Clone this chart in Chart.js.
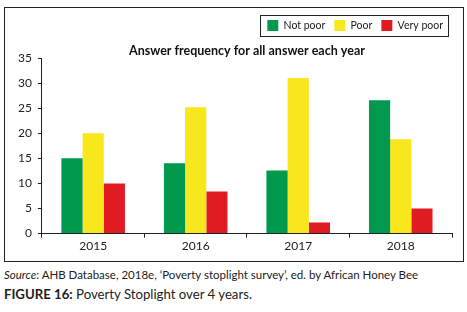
<!DOCTYPE html>
<html lang="en">
<head>
    <meta charset="UTF-8">
    <title>Poverty Stoplight</title>
    <script src="https://cdn.jsdelivr.net/npm/chart.js"></script>
    <style>
        body { margin: 0; background: #fff; font-family: Lato, "Open Sans", sans-serif; color: #222; }
        #frame { position: absolute; left: 4px; top: 7px; width: 458px; height: 253px; border: 1px solid #222; }
        #source { position: absolute; left: 4px; top: 268px; font-size: 11.5px; white-space: nowrap; }
        #caption { position: absolute; left: 4px; top: 286px; font-size: 13.2px; white-space: nowrap; }
    </style>
</head>
<body>
<div id="frame"><canvas id="diagram" width="458" height="253"></canvas></div>
<div id="source"><i>Source</i>: AHB Database, 2018e, ‘Poverty stoplight survey’, ed. by African Honey Bee</div>
<div id="caption"><b>FIGURE 16:</b> Poverty Stoplight over 4 years.</div>
<script>
    const years = ["2015", "2016", "2017", "2018"];
    const notPoor = [15, 14, 12.6, 26.6];
    const poor = [20, 25.2, 31, 18.8];
    const veryPoor = [10, 8.4, 2.2, 5];
    const yTicks = [0, 5, 10, 15, 20, 25, 30, 35];

    // box around the legend, like the original
    const legendBorder = {
        id: 'legendBorder',
        afterDraw(chart) {
            const lg = chart.legend;
            if (!lg || !lg.legendHitBoxes.length) return;
            const boxes = lg.legendHitBoxes;
            const x0 = boxes[0].left - 7;
            const last = boxes[boxes.length - 1];
            const x1 = last.left + last.width + 5;
            const y0 = boxes[0].top - 5;
            const y1 = boxes[0].top + boxes[0].height + 5;
            const ctx = chart.ctx;
            ctx.save();
            ctx.strokeStyle = '#222';
            ctx.lineWidth = 1;
            ctx.strokeRect(Math.round(x0) + 0.5, Math.round(y0) + 0.5, Math.round(x1 - x0), Math.round(y1 - y0));
            ctx.restore();
        }
    };

    const chart = new Chart("diagram", {
        type: "bar",
        data: {
            labels: years,
            datasets: [
                { label: "Not poor", data: notPoor, backgroundColor: "#00994E" },
                { label: "Poor", data: poor, backgroundColor: "#F8E71C" },
                { label: "Very poor", data: veryPoor, backgroundColor: "#E11B22" }
            ]
        },
        options: {
            responsive: false,
            animation: false,
            layout: { padding: { left: 7, right: 11, top: 3, bottom: 7 } },
            datasets: { bar: { categoryPercentage: 0.62, barPercentage: 1 } },
            plugins: {
                legend: {
                    position: 'top',
                    align: 'end',
                    labels: {
                        boxWidth: 11, boxHeight: 11, padding: 9,
                        color: '#222',
                        font: { family: 'Lato', size: 10.5 }
                    }
                },
                title: {
                    display: true,
                    text: 'Answer frequency for all answer each year',
                    weight: 500,
                    fullSize: false,
                    color: '#111',
                    padding: { top: 2, bottom: 0 },
                    font: { family: 'Lato', size: 12.5, weight: 'bold' }
                },
                tooltip: { enabled: false }
            },
            scales: {
                x: {
                    border: { color: '#222' },
                    grid: { offset: true, drawOnChartArea: false, tickLength: 4, color: '#222' },
                    ticks: { color: '#222', padding: 1, font: { family: 'Lato', size: 12 } }
                },
                y: {
                    min: 0, max: 35,
                    afterBuildTicks: axis => { axis.ticks = yTicks.map(v => ({ value: v })); },
                    border: { color: '#222' },
                    grid: { drawOnChartArea: false, tickLength: 4, color: '#222' },
                    ticks: { color: '#222', padding: 6, font: { family: 'Lato', size: 12 } }
                }
            }
        },
        plugins: [legendBorder]
    });
</script>
</body>
</html>
